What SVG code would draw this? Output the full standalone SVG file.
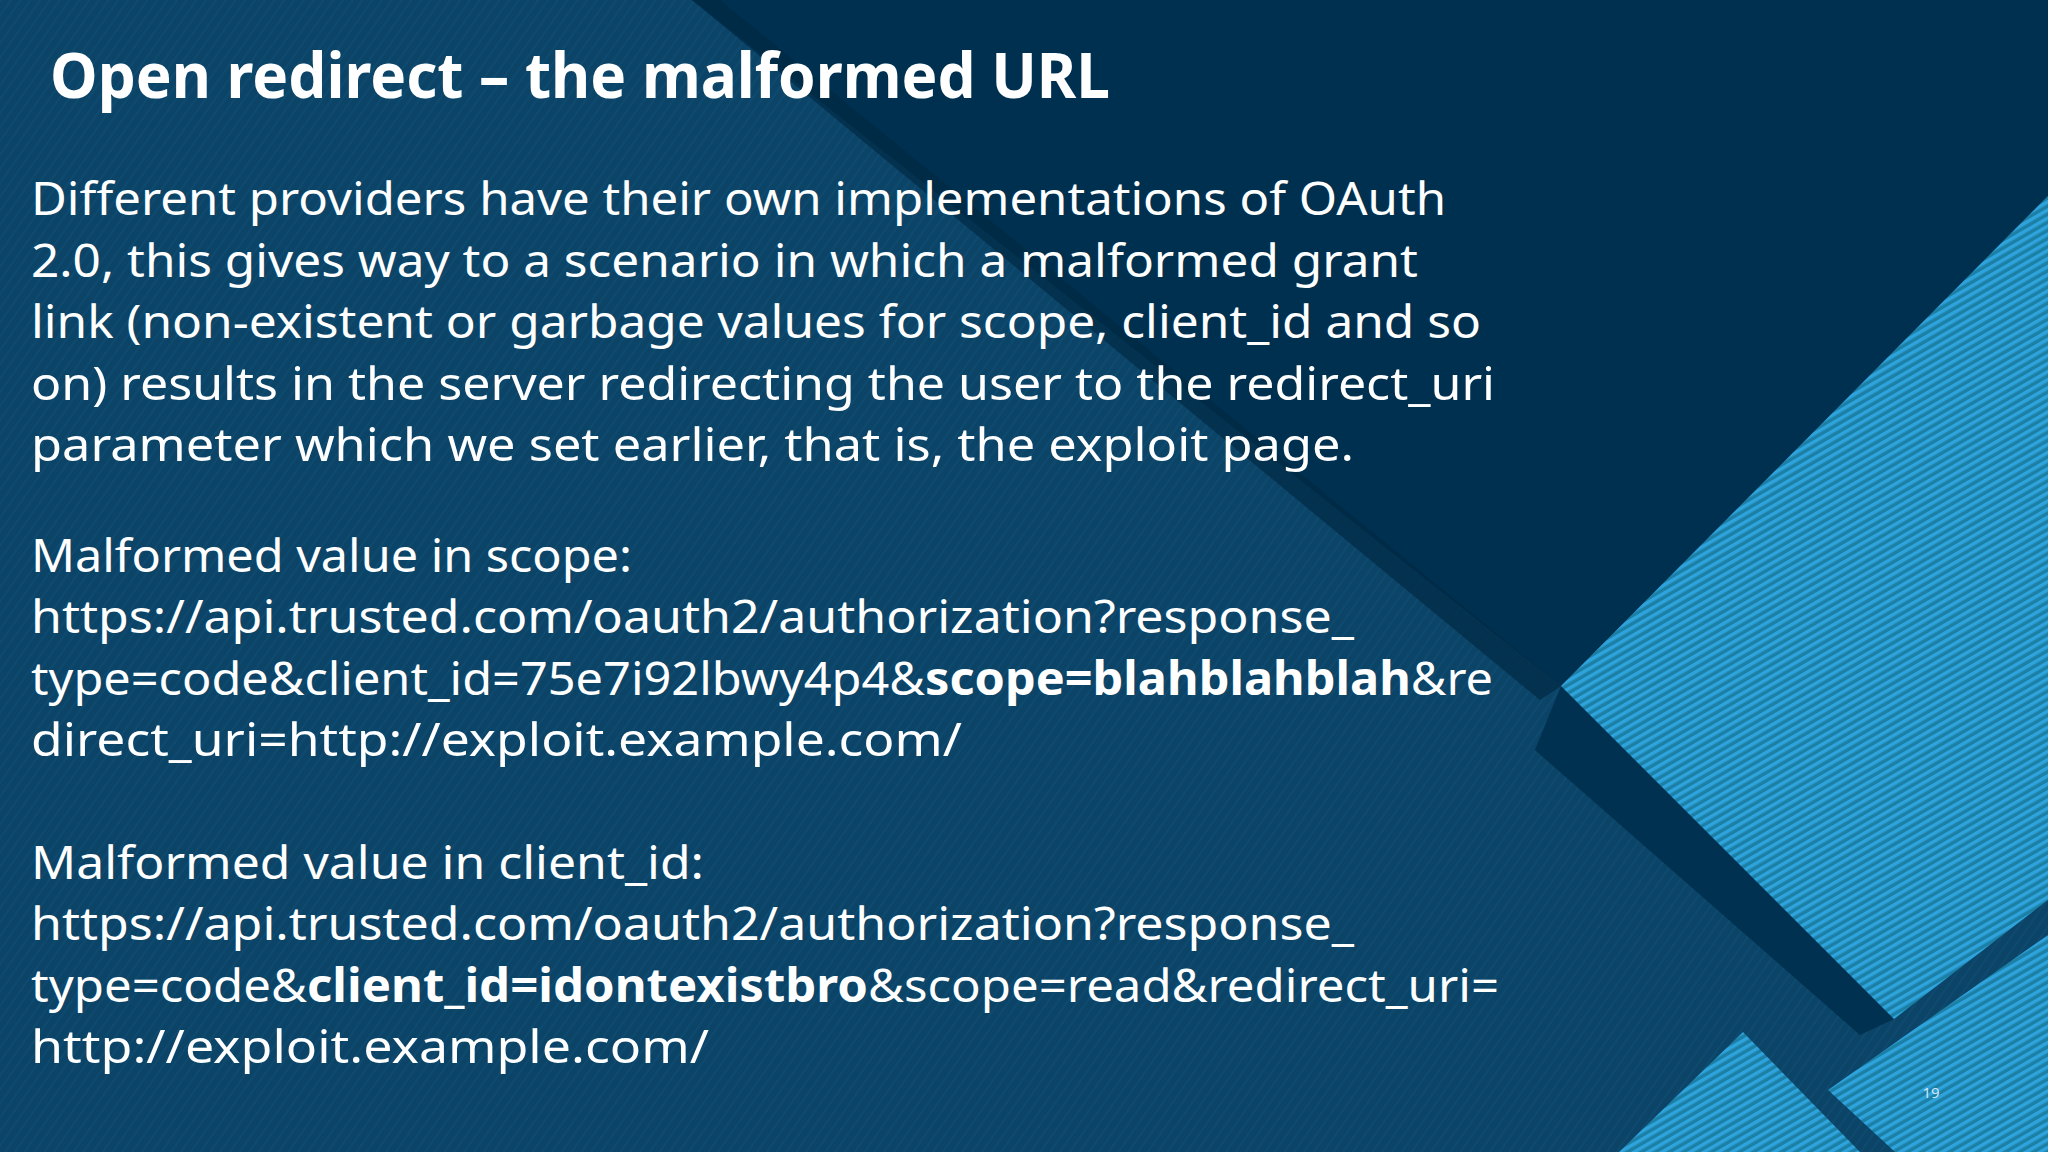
<svg xmlns="http://www.w3.org/2000/svg" width="2048" height="1152" viewBox="0 0 2048 1152">
<defs>
<pattern id="fine" width="8" height="8" patternUnits="userSpaceOnUse" patternTransform="rotate(35)">
<rect width="8" height="8" fill="#0b4467"/><rect width="2" height="8" fill="#0e4a6f"/>
</pattern>
<pattern id="bright" width="7" height="7" patternUnits="userSpaceOnUse" patternTransform="rotate(-30)">
<rect width="7" height="7" fill="#1b7fa6"/><rect width="7" height="3.5" fill="#2fa3dc"/>
</pattern>
<style>
.t{font-family:"Noto Sans","DejaVu Sans",sans-serif;fill:#fff;font-size:46px}
.h{font-family:"Noto Sans","DejaVu Sans",sans-serif;fill:#fff;font-size:62px;font-weight:bold}
b,.b{font-weight:bold}
</style>
</defs>
<rect width="2048" height="1152" fill="url(#fine)"/>
<polygon points="692,0 2048,0 2048,196 1561,686" fill="#00304f"/>
<polygon points="692,0 720,0 1561,686 1540,700" fill="#002a45" opacity="0.7"/>
<polygon points="1561,686 1894,1019 1860,1035 1535,750" fill="#003150"/>
<polygon points="2048,196 1561,686 1894,1019 2048,900" fill="url(#bright)"/>
<polygon points="2048,935 1828,1090 1895,1152 2048,1152" fill="url(#bright)"/>
<polygon points="1619,1152 1743,1032 1860,1152" fill="url(#bright)"/>
<g id="title"><text class="h" x="50" y="98" textLength="1060" lengthAdjust="spacingAndGlyphs">Open redirect – the malformed URL</text></g>
<g id="body">
<text class="t" x="31" y="215" textLength="1415" lengthAdjust="spacingAndGlyphs">Different providers have their own implementations of OAuth</text>
<text class="t" x="31" y="277" textLength="1387" lengthAdjust="spacingAndGlyphs">2.0, this gives way to a scenario in which a malformed grant</text>
<text class="t" x="31" y="338" textLength="1450" lengthAdjust="spacingAndGlyphs">link (non-existent or garbage values for scope, client_id and so</text>
<text class="t" x="31" y="400" textLength="1464" lengthAdjust="spacingAndGlyphs">on) results in the server redirecting the user to the redirect_uri</text>
<text class="t" x="31" y="461" textLength="1323" lengthAdjust="spacingAndGlyphs">parameter which we set earlier, that is, the exploit page.</text>
<text class="t" x="31" y="572" textLength="601" lengthAdjust="spacingAndGlyphs">Malformed value in scope:</text>
<text class="t" x="31" y="633" textLength="1323" lengthAdjust="spacingAndGlyphs">https://api.trusted.com/oauth2/authorization?response_</text>
<text class="t" x="31" y="695" textLength="1462" lengthAdjust="spacingAndGlyphs">type=code&amp;client_id=75e7i92lbwy4p4&amp;<tspan class="b">scope=blahblahblah</tspan>&amp;re</text>
<text class="t" x="31" y="756" textLength="931" lengthAdjust="spacingAndGlyphs">direct_uri=http://exploit.example.com/</text>
<text class="t" x="31" y="879" textLength="673" lengthAdjust="spacingAndGlyphs">Malformed value in client_id:</text>
<text class="t" x="31" y="940" textLength="1323" lengthAdjust="spacingAndGlyphs">https://api.trusted.com/oauth2/authorization?response_</text>
<text class="t" x="31" y="1002" textLength="1468" lengthAdjust="spacingAndGlyphs">type=code&amp;<tspan class="b">client_id=idontexistbro</tspan>&amp;scope=read&amp;redirect_uri=</text>
<text class="t" x="31" y="1063" textLength="678" lengthAdjust="spacingAndGlyphs">http://exploit.example.com/</text>
</g>
<g id="page"><text x="1931" y="1098" font-family="Noto Sans,sans-serif" font-size="15" fill="#cfe6f5" text-anchor="middle">19</text></g>
</svg>
